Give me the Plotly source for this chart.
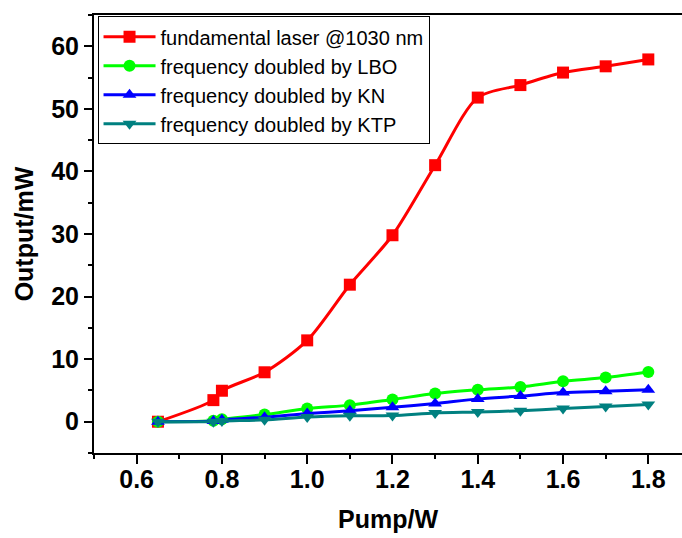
import plotly.graph_objects as go

pump = [0.65, 0.78, 0.80, 0.90, 1.00, 1.10, 1.20, 1.30, 1.40, 1.50, 1.60, 1.70, 1.80]
fundamental = [0, 3.45, 4.95, 7.9, 13.0, 21.9, 29.8, 41.0, 51.8, 53.8, 55.8, 56.8, 57.9]
lbo = [0, 0.15, 0.4, 1.15, 2.1, 2.65, 3.55, 4.5, 5.1, 5.55, 6.45, 7.05, 7.95]
kn = [0, 0.1, 0.3, 0.7, 1.3, 1.75, 2.3, 2.9, 3.65, 4.1, 4.65, 4.85, 5.1]
ktp = [0, 0, 0.1, 0.3, 0.75, 0.95, 1.0, 1.4, 1.55, 1.75, 2.1, 2.45, 2.75]

names = ["fundamental laser @1030 nm", "frequency doubled by LBO",
         "frequency doubled by KN", "frequency doubled by KTP"]
series = [fundamental, lbo, kn, ktp]
colors = ["#FF0000", "#00FF00", "#0000FF", "#008080"]
symbols = ["square", "circle", "triangle-up", "triangle-down"]

fig = go.Figure()
for name, ys, c, s in zip(names, series, colors, symbols):
    fig.add_trace(go.Scatter(
        x=pump, y=ys, name=name, mode="lines+markers",
        line=dict(color=c, width=3, shape="spline", smoothing=0.8),
        marker=dict(symbol=s, size=12, color=c),
    ))

font_family = "Liberation Sans, Arial, sans-serif"
fig.update_layout(
    width=682, height=538,
    margin=dict(l=93.5, r=0, t=15, b=85),
    paper_bgcolor="white", plot_bgcolor="white",
    font=dict(family=font_family, color="black"),
    showlegend=True,
    legend=dict(
        x=0.006, y=0.997, xanchor="left", yanchor="top",
        bgcolor="white", bordercolor="black", borderwidth=1,
        font=dict(size=20, family=font_family, color="black"),
        itemwidth=52, tracegroupgap=0,
    ),
    xaxis=dict(
        range=[0.5, 1.879], tick0=0.6, dtick=0.2, tickformat=".1f",
        showgrid=False, zeroline=False,
        showline=True, linecolor="black", linewidth=2, mirror=True,
        ticks="outside", ticklen=9, tickwidth=2, tickcolor="black",
        ticklabelstandoff=-6,
        minor=dict(ticks="outside", ticklen=4, tickwidth=2, dtick=0.1, tick0=0.5, tickcolor="black"),
        tickfont=dict(size=25, family=font_family, weight="bold"),
        title=dict(text="<b>Pump/W</b>", font=dict(size=25, family=font_family), standoff=18),
    ),
    yaxis=dict(
        range=[-5, 65], tick0=0, dtick=10,
        showgrid=False, zeroline=False,
        showline=True, linecolor="black", linewidth=2, mirror=False,
        ticks="outside", ticklen=8, tickwidth=2, tickcolor="black",
        minor=dict(ticks="outside", ticklen=4, tickwidth=2, dtick=5, tick0=-5, tickcolor="black"),
        tickfont=dict(size=25, family=font_family, weight="bold"),
        title=dict(text="<b>Output/mW</b>", font=dict(size=25, family=font_family), standoff=10),
    ),
)

fig.write_html("out.html")
